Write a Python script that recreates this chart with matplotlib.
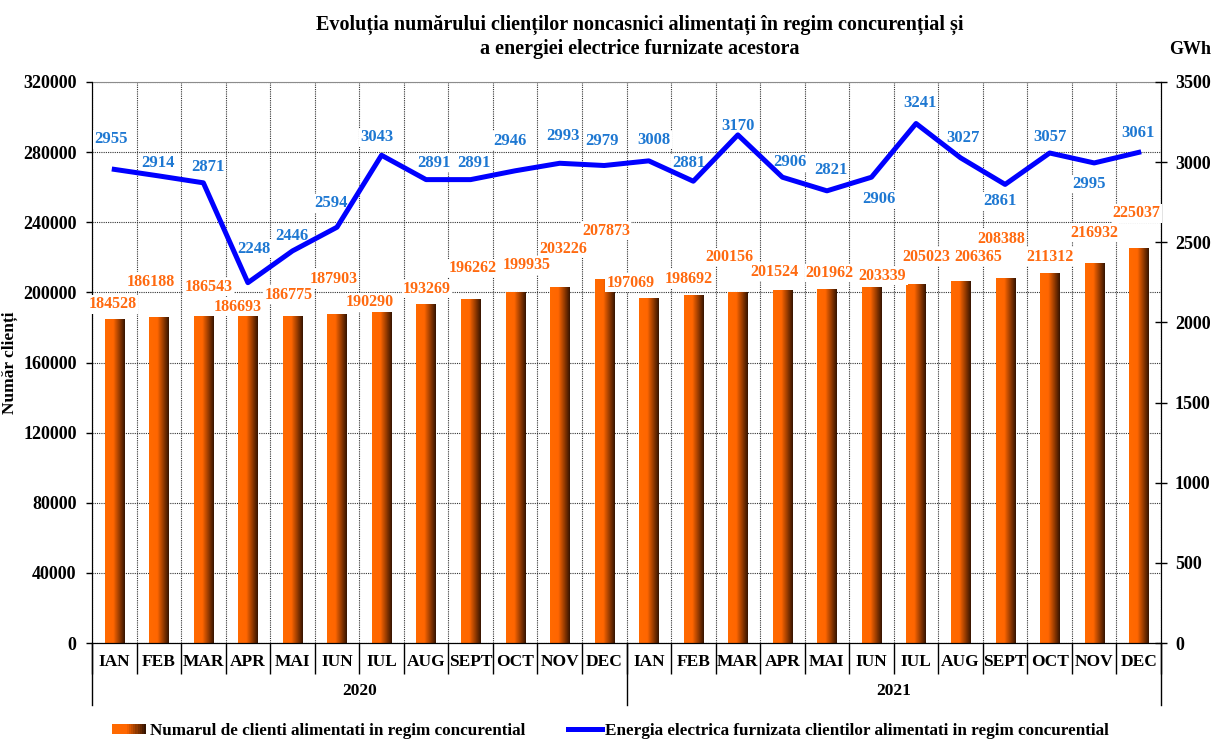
import numpy as np
import matplotlib
matplotlib.use("Agg")
import matplotlib.pyplot as plt
from matplotlib.colors import LinearSegmentedColormap
from matplotlib.patches import Rectangle
from matplotlib.lines import Line2D
from matplotlib.legend_handler import HandlerTuple

plt.rcParams["font.family"] = ["Liberation Serif", "DejaVu Serif"]
plt.rcParams["font.weight"] = "bold"

# Monthly data, 2020-2021
luni = ["IAN", "FEB", "MAR", "APR", "MAI", "IUN", "IUL", "AUG", "SEPT", "OCT", "NOV", "DEC"]
ani = ["2020", "2021"]
clienti = [184528, 186188, 186543, 186693, 186775, 187903, 190290, 193269, 196262, 199935, 203226, 207873,
           197069, 198692, 200156, 201524, 201962, 203339, 205023, 206365, 208388, 211312, 216932, 225037]
energie = [2955, 2914, 2871, 2248, 2446, 2594, 3043, 2891, 2891, 2946, 2993, 2979,
           3008, 2881, 3170, 2906, 2821, 2906, 3241, 3027, 2861, 3057, 2995, 3061]

# Label placement, offsets in pixels from each point (dx, dy)
off_clienti = [(-2, 15), (-8, 35), (5, 29), (-10, 9), (-4, 21), (-3, 35), (-12, 7), (1, 15), (2, 31), (12, 27), (4, 38), (2, 48),
               (-18, 15), (-5, 16), (-8, 35), (-8, 18), (3, 16), (11, 11), (10, 27), (18, 24), (-4, 39), (0, 16), (0, 30), (-2, 35)]
off_energie = [(-3, 30), (-1, 13), (5, 16), (6, 34), (-1, 15), (-6, 24), (-5, 18), (8, 17), (3, 17), (-5, 30), (3, 27), (-2, 25),
               (5, 21), (-4, 18), (0, 9), (8, 15), (4, 21), (7, -22), (4, 21), (2, 20), (-5, -17), (0, 16), (-5, -21), (-1, 19)]

etichete = luni * len(ani)
x = np.arange(len(clienti))

col_linie = "#0000FF"
col_txt_linie = "#1E78D2"
col_txt_bare = "#FF6A10"
grad = LinearSegmentedColormap.from_list("bara", [(0, "#FF6A00"), (0.42, "#FF6600"), (1, "#361400")])

fig = plt.figure(figsize=(12.16, 7.4), dpi=100)
ax = fig.add_axes([92 / 1216, 1 - 643 / 740, 1069 / 1216, 561 / 740])
ax2 = ax.twinx()

# Bars with a horizontal colour gradient
bare = ax.bar(x, clienti, width=0.43, facecolor="none", edgecolor="none", zorder=2)
gradient = np.linspace(0, 1, 64).reshape(1, -1)
for b in bare:
    x0, w, h = b.get_x(), b.get_width(), b.get_height()
    im = ax.imshow(gradient, cmap=grad, aspect="auto", extent=[x0, x0 + w, 0, h], zorder=2)
    im.set_clip_path(b)

ax.set_xlim(-0.5, len(clienti) - 0.5)
ax.set_ylim(0, 320000)
ax.set_yticks(np.arange(0, 320001, 40000))
ax2.set_ylim(0, 3500)
ax2.set_yticks(np.arange(0, 3501, 500))

# Grid: dotted lines at value ticks and between months
ax.set_xticks(x)
ax.set_xticks(np.arange(-0.5, len(clienti), 1), minor=True)
ax.set_xticklabels(etichete, fontsize=12.5, fontweight="bold")
ax.grid(axis="y", which="major", linestyle=(0, (1, 1)), color="#333333", linewidth=0.8)
ax.grid(axis="x", which="minor", linestyle=(0, (1, 1)), color="#333333", linewidth=0.8)
ax.set_axisbelow(True)
ax.tick_params(axis="x", which="major", length=0, pad=8)
ax.tick_params(axis="x", which="minor", length=22, width=1, direction="out", color="black")
ax.tick_params(axis="y", length=4, width=1, direction="out", pad=7, labelsize=13)
ax2.tick_params(axis="y", length=8, width=1, direction="inout", pad=6, labelsize=13)
for lbl in ax.get_yticklabels() + ax2.get_yticklabels():
    lbl.set_fontweight("bold")

ax.spines["top"].set_color("#8C8C8C")
ax2.spines["top"].set_visible(False)
for s in ["left", "bottom"]:
    ax.spines[s].set_color("black")
ax2.spines["right"].set_color("black")

# Year separators and labels under the month names
tr = ax.get_xaxis_transform()
for xs in [-0.5, 11.5, len(clienti) - 0.5]:
    ax.plot([xs, xs], [0, -0.1105], transform=tr, color="black", linewidth=1, clip_on=False)
for i, an in enumerate(ani):
    ax.text(5.5 + 12 * i, -0.0856, an, transform=tr, ha="center", va="center", fontsize=12.5, fontweight="bold")

# Energy line
ax2.plot(x, energie, color=col_linie, linewidth=3.6, zorder=4)

# Data labels (on ax2 so their white boxes sit above the spines)
box = dict(boxstyle="square,pad=0.08", facecolor="white", edgecolor="none")
for xi, v, (dx, dy) in zip(x, clienti, off_clienti):
    ax2.annotate(str(v), xy=(xi, v), xycoords=ax.transData, xytext=(dx, dy), textcoords="offset pixels",
                 ha="center", va="center", fontsize=11.5, fontweight="bold", color=col_txt_bare, bbox=box, zorder=3)
for xi, v, (dx, dy) in zip(x, energie, off_energie):
    ax2.annotate(str(v), xy=(xi, v), xytext=(dx, dy), textcoords="offset pixels",
                 ha="center", va="center", fontsize=12, fontweight="bold", color=col_txt_linie, bbox=box, zorder=3)

# Axis titles
ax.set_ylabel("Număr clienți", fontsize=12.5, fontweight="bold")
ax.yaxis.set_label_coords(-0.069, 0.5)
fig.text(1190 / 1216, 1 - 50 / 740, "GWh", ha="center", va="center", fontsize=13, fontweight="bold")

fig.text(640 / 1216, 1 - 25 / 740, "Evoluția numărului clienților noncasnici alimentați în regim concurențial și",
         ha="center", va="center", fontsize=14.5, fontweight="bold")
fig.text(640 / 1216, 1 - 49 / 740, "a energiei electrice furnizate acestora",
         ha="center", va="center", fontsize=14.5, fontweight="bold")

# Legend: gradient swatch built from thin patches
pete = tuple(Rectangle((0, 0), 1, 1, facecolor=grad(t), edgecolor="none") for t in np.linspace(0, 1, 16))
linie = Line2D([], [], color=col_linie, linewidth=3.6)
fig.legend([pete, linie],
           ["Numarul de clienti alimentati in regim concurential",
            "Energia electrica furnizata clientilor alimentati in regim concurential"],
           handler_map={tuple: HandlerTuple(ndivide=None, pad=0)},
           loc="center left", bbox_to_anchor=(112 / 1216, 1 - 731 / 740), ncol=2, frameon=False,
           borderpad=0, borderaxespad=0, handlelength=2.0, handleheight=0.6, handletextpad=0.2,
           columnspacing=2.5, prop={"size": 12.3, "weight": "bold"})

fig.savefig("out.png", dpi=100)
